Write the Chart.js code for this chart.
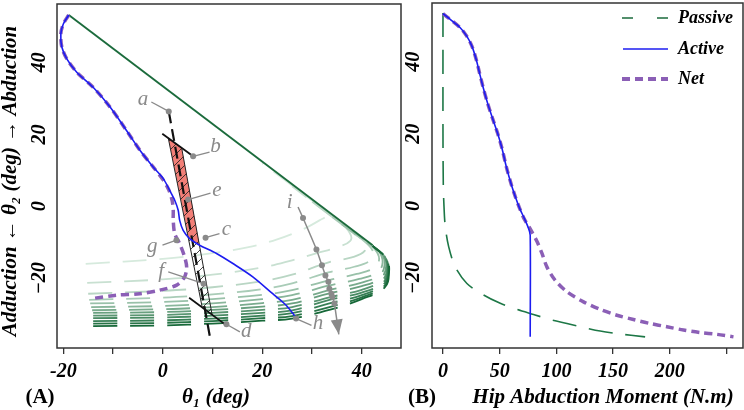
<!DOCTYPE html>
<html>
<head>
<meta charset="utf-8">
<script src="https://cdn.jsdelivr.net/npm/chart.js@4.4.1/dist/chart.umd.min.js"></script>
<style>
  html, body { margin: 0; padding: 0; background: #fff; }
  #wrap { position: relative; width: 744px; height: 410px; overflow: hidden; }
  #chartA { position: absolute; left: 0; top: 0; }
  #chartB { position: absolute; left: 400px; top: 0; }
</style>
</head>
<body>
<div id="wrap">
  <canvas id="chartA" width="420" height="410"></canvas>
  <canvas id="chartB" width="344" height="410"></canvas>
</div>
<script>
// ---- values ----
// axes
const xTicksA = [-20, -10, 0, 10, 20, 30, 40];
const xLabelsA = [-20, 0, 20, 40];
const yTicks = [-20, 0, 20, 40];
const xTicksB = [0, 50, 100, 150, 200, 250];
const xLabelsB = [0, 50, 100, 150, 200];

// panel A: theta1 (x) vs theta2 (y), deg
const passiveEdgeA = [[-18.9, 53.2], [42.2, -10.8]];
const activeA = [[-18.9, 53.2], [-20.0, 50.7], [-20.5, 48.0], [-20.3, 44.3], [-19.3, 41.0], [-17.3, 37.3],
  [-14.0, 33.1], [-10.6, 27.6], [-7.3, 21.1], [-4.6, 15.6], [-1.9, 10.9], [0.1, 7.7], [1.4, 4.4],
  [2.4, 1.7], [3.1, -1.1], [3.4, -3.9], [4.1, -6.7], [5.4, -9.0], [7.4, -10.8], [10.8, -13.1],
  [14.1, -15.9], [18.1, -19.6], [22.1, -24.3], [24.8, -27.5], [26.6, -30.6]];
const netA = [[-18.9, 53.2], [-20.0, 50.7], [-20.5, 48.0], [-20.3, 44.3], [-19.3, 41.0], [-17.3, 37.3],
  [-14.0, 33.1], [-10.6, 27.6], [-7.3, 21.1], [-4.6, 15.6], [-1.9, 10.9], [0.1, 7.3], [1.2, 4.6],
  [1.9, 1.5], [2.1, -1.1], [2.1, -3.9], [2.4, -7.6], [3.4, -10.4], [4.4, -14.1], [4.8, -16.9],
  [4.4, -19.6], [2.8, -21.9], [-0.6, -23.3], [-4.6, -24.3], [-9.3, -24.7], [-14.0, -25.6]];

// passive moment contours, light (top) to dark (bottom)
const contour01 = [[-15.5, -16], [0, -14.6], [10, -13], [17, -11.4], [23, -9.2], [28, -6.5], [31.5, -3.9], [33.2, -2.2], [32.6, -1.0], [30, 1.6], [25, 6.8], [20, 12.0]];
const contour02 = [[-15.2, -21.3], [0, -20.3], [10, -19], [20, -17], [26, -15], [31, -13], [35, -11.4], [37.7, -9.6], [37.6, -7.4], [35.5, -4.4], [31, 0.3], [26, 5.6]];
const contour03 = [[-15, -24.3], [0, -23.5], [10, -22.5], [20, -20.8], [26, -19], [33.5, -15.5], [38, -14.2], [40.6, -12.4], [40.4, -10], [38.5, -7.4], [35, -3.9], [30, 1.3]];
const contour04 = [[-14.8, -26], [0, -25.4], [10, -24.5], [20, -23], [26, -21.4], [33.5, -18.3], [38.5, -16.8], [41.8, -15], [42.3, -12.8], [41, -10.3], [38, -7.1], [34, -2.9]];
const contour05 = [[-14.6, -27], [0, -26.6], [10, -25.8], [20, -24.6], [26, -23.3], [33.5, -20.5], [39, -18.8], [42.6, -17], [43.5, -14.6], [42.6, -11.9], [40, -9.2], [36, -5]];
const contour06 = [[-14.4, -28], [0, -27.7], [10, -27], [20, -25.8], [26, -24.7], [33.5, -22], [39.5, -20.2], [43.2, -18.3], [44.2, -15.6], [43.5, -12.6], [41.5, -10.3], [38, -6.7]];
const contour07 = [[-14.2, -28.9], [0, -28.6], [10, -28], [20, -26.9], [26, -26], [33.5, -23.3], [40, -21.2], [43.6, -19.2], [44.6, -16.3], [44.1, -13.3], [42.2, -11]];
const contour08 = [[-14, -29.6], [0, -29.4], [10, -28.8], [20, -27.9], [26, -27], [33.5, -24.2], [40, -22.2], [43.9, -19.9], [44.9, -16.8], [44.4, -13.6], [42.2, -11]];
const contour09 = [[-14, -30.4], [0, -30.2], [10, -29.6], [20, -28.8], [26, -28], [33.5, -25.3], [40, -23.2], [44.1, -20.6], [45.1, -17.3], [44.6, -13.9], [42.2, -11]];
const contour10 = [[-14, -31.1], [0, -30.9], [10, -30.4], [20, -29.6], [26, -28.9], [33.5, -26], [40, -24], [44.3, -21.2], [45.2, -17.6], [44.7, -14.1], [42.2, -11]];
const contour11 = [[-14, -31.9], [0, -31.7], [10, -31.2], [20, -30.4], [26, -29.7], [33.5, -27], [40, -24.7], [44.4, -21.7], [45.3, -17.9], [44.8, -14.3], [42.2, -11]];
const contour12 = [[-14, -32.6], [0, -32.4], [10, -31.9], [20, -31.1], [26, -30.5], [33.5, -28], [40, -25.3], [44.5, -22.2], [45.4, -18.1], [44.9, -14.5], [42.2, -11]];
const contour13 = [[-14, -33.3], [0, -33.1], [10, -32.6], [20, -31.8], [26, -31.2], [33.5, -28.8], [40, -25.8], [44.6, -22.6], [45.5, -18.3], [45, -14.6], [42.2, -11]];
const contours = [contour01, contour02, contour03, contour04, contour05, contour06, contour07,
  contour08, contour09, contour10, contour11, contour12, contour13];

// band between lines b and d, red part above the active path
const redZone = [[1.1, 19.0], [3.8, 16.2], [7.4, -10.8], [5.2, -8.8], [1.1, 19.0]];
const hatchZone = [[1.1, 19.0], [3.8, 16.2], [9.92, -30.14], [7.93, -28.1], [1.1, 19.0]];
const lineA = [[1.2, 26.4], [9.6, -37.2]];
const lineB = [[-0.1, 20.2], [6.1, 13.9]];
const lineD = [[5.3, -25.4], [12.8, -33.1]];
const pathI = [[27.2, -0.2], [28.2, -3.25], [30.9, -12.0], [32.0, -16.4], [32.7, -19.2], [33.3, -21.0],
  [33.5, -22.9], [33.9, -24.3], [34.1, -25.2], [34.5, -27.0], [35.4, -35.6]];

// annotation letters and their leaders
const letterNames = ['a', 'b', 'c', 'd', 'e', 'f', 'g', 'h', 'i'];
const letterAt = [[-4.0, 29.6], [10.6, 16.7], [12.8, -6.5], [16.8, -34.9], [10.9, 4.4], [-0.3, -18.0],
  [-2.1, -11.3], [31.2, -32.6], [25.5, 1.2]];
const leaderFrom = [[-2.3, 29.0], [9.4, 15.1], [11.4, -7.6], [15.5, -34.9], [9.6, 3.7], [1.1, -18.2],
  [-0.06, -10.8], [29.9, -33.1]];
const leaderTo = [[1.2, 26.4], [6.1, 13.9], [8.6, -8.7], [12.8, -32.8], [5.1, 1.9], [8.2, -21.5],
  [2.75, -9.4], [26.8, -31.2]];

// panel B: hip abduction moment (x, N.m) vs theta2 (y)
const passiveB = [[0, 53.5], [0, 20], [0.3, 5.4], [0.9, -0.2], [2.0, -5.7], [5.0, -11.3], [10.8, -16.9],
  [21.1, -21.5], [35.8, -24.7], [50.5, -27.0], [65.2, -28.7], [79.8, -30.1], [94.5, -31.5],
  [109.3, -32.6], [123.9, -33.7], [138.6, -34.7], [153.3, -35.4], [178.2, -36.3]];
const activeB = [[0, 53.3], [6.4, 51.7], [15.2, 49.4], [21.1, 47.0], [25.5, 44.3], [29.3, 40.6],
  [32.2, 36.9], [35.2, 33.1], [39.3, 28.5], [44.1, 23.9], [48.1, 20.2], [52.0, 16.0], [55.8, 10.9],
  [59.9, 6.3], [63.7, 2.6], [67.5, -0.6], [71.6, -3.4], [75.4, -6.2], [76.9, -8.1], [76.9, -36.3]];
const netB = [[0, 53.3], [6.4, 51.7], [15.2, 49.4], [21.1, 47.0], [25.5, 44.3], [29.3, 40.6],
  [32.2, 36.9], [35.2, 33.1], [39.3, 28.5], [44.1, 23.9], [48.1, 20.2], [52.0, 16.0], [55.8, 10.9],
  [59.9, 6.3], [63.7, 2.6], [67.5, -0.6], [71.6, -3.6], [75.5, -5.6], [78.4, -7.2], [82.8, -9.8],
  [87.2, -13.1], [91.6, -16.9], [98.9, -20.6], [109.3, -23.8], [123.9, -26.6], [138.6, -28.7],
  [153.3, -30.3], [167.9, -31.5], [182.6, -32.6], [197.4, -33.5], [212.0, -34.4], [226.7, -35.1],
  [241.4, -35.6], [256.1, -36.3]];
const legendNames = ['Passive', 'Active', 'Net'];

// ---- styling ----
const SERIF = "'Liberation Serif', 'Times New Roman', serif";
const GREEN = '#1b6b3c';
const BLUE = '#1c1cf0';
const PURPLE = '#8b5fb6';
const GREY = '#8a8a8a';
const AXIS = '#333';

const pts = arr => arr.map(([x, y]) => ({ x, y }));

function line(data, opts) {
  return Object.assign({
    data: pts(data), showLine: true, pointRadius: 0, borderWidth: 1.5,
    fill: false, tension: 0
  }, opts);
}

function greenShade(k) {
  const light = [214, 234, 221], dark = [22, 104, 56];
  const t = Math.pow(k / (contours.length - 1), 1.05);
  const c = light.map((v, i) => Math.round(v + (dark[i] - v) * t));
  return `rgb(${c[0]},${c[1]},${c[2]})`;
}

function makeHatch() {
  const tile = document.createElement('canvas');
  tile.width = 10; tile.height = 10;
  const g = tile.getContext('2d');
  g.strokeStyle = '#1a1a1a';
  g.lineWidth = 0.8;
  g.beginPath();
  g.moveTo(0, 10); g.lineTo(10, 0);
  g.moveTo(-2, 2); g.lineTo(2, -2);
  g.moveTo(8, 12); g.lineTo(12, 8);
  g.stroke();
  return g.createPattern(tile, 'repeat');
}

function xScale(min, max, ticks, labels) {
  return {
    type: 'linear', min, max,
    afterBuildTicks: s => { s.ticks = ticks.map(v => ({ value: v })); },
    ticks: {
      callback: v => labels.includes(v) ? String(v) : '',
      autoSkip: false, maxRotation: 0, padding: 6, color: '#000',
      font: { family: SERIF, size: 20, style: 'italic', weight: 'bold' }
    },
    grid: { drawOnChartArea: false, drawTicks: true, tickLength: 6, color: AXIS, lineWidth: 1.3 },
    border: { display: false }
  };
}

const yScale = { type: 'linear', min: -39.39, max: 56.26, display: false };

function drawFrame(ctx, area) {
  ctx.save();
  ctx.strokeStyle = AXIS;
  ctx.lineWidth = 1.5;
  ctx.strokeRect(area.left, area.top, area.right - area.left, area.bottom - area.top);
  ctx.restore();
}

function drawYLabels(ctx, y, cx) {
  ctx.save();
  ctx.fillStyle = '#000';
  ctx.font = `italic bold 20px ${SERIF}`;
  ctx.textAlign = 'center';
  ctx.textBaseline = 'middle';
  yTicks.forEach(v => {
    ctx.save();
    ctx.translate(cx, y.getPixelForValue(v));
    ctx.rotate(-Math.PI / 2);
    ctx.fillText(v < 0 ? '\u2212' + Math.abs(v) : String(v), 0, 0);
    ctx.restore();
  });
  ctx.restore();
}

const panelA = {
  id: 'panelA',
  afterDatasetsDraw(chart) {
    const { ctx, scales: { x, y } } = chart;
    ctx.save();
    // arrow head at the end of path i
    const n = pathI.length;
    const tx = x.getPixelForValue(pathI[n - 1][0]), ty = y.getPixelForValue(pathI[n - 1][1]);
    const bx = x.getPixelForValue(pathI[n - 2][0]), by = y.getPixelForValue(pathI[n - 2][1]);
    const ang = Math.atan2(ty - by, tx - bx);
    const L = 15, W = 6, c = Math.cos(ang), s = Math.sin(ang);
    ctx.fillStyle = GREY;
    ctx.beginPath();
    ctx.moveTo(tx, ty);
    ctx.lineTo(tx - L * c + W * s, ty - L * s - W * c);
    ctx.lineTo(tx - L * c - W * s, ty - L * s + W * c);
    ctx.closePath();
    ctx.fill();
    // letters
    ctx.font = `italic 21px ${SERIF}`;
    ctx.textAlign = 'center';
    ctx.textBaseline = 'middle';
    letterNames.forEach((t, i) => {
      ctx.fillText(t, x.getPixelForValue(letterAt[i][0]), y.getPixelForValue(letterAt[i][1]));
    });
    ctx.restore();
  },
  afterDraw(chart) {
    const { ctx, chartArea, scales: { y } } = chart;
    drawFrame(ctx, chartArea);
    drawYLabels(ctx, y, 40);
    ctx.save();
    ctx.fillStyle = '#000';
    ctx.textBaseline = 'middle';
    ctx.textAlign = 'center';
    ctx.font = `bold 21px ${SERIF}`;
    ctx.fillText('(A)', 40, 398);
    ctx.font = `italic bold 21px ${SERIF}`;
    ctx.fillText('\u03b8\u2081 (deg)', 216, 398);
    ctx.translate(11, 181);
    ctx.rotate(-Math.PI / 2);
    ctx.fillText('Adduction \u2190 \u03b8\u2082 (deg) \u2192 Abduction', 0, 0);
    ctx.restore();
  }
};

const panelB = {
  id: 'panelB',
  afterDraw(chart) {
    const { ctx, chartArea, scales: { y } } = chart;
    drawFrame(ctx, chartArea);
    drawYLabels(ctx, y, 14);
    ctx.save();
    // legend
    const rowY = [18, 49, 79];
    ctx.lineCap = 'butt';
    ctx.strokeStyle = GREEN; ctx.lineWidth = 1.6;
    ctx.beginPath();
    ctx.moveTo(222, rowY[0]); ctx.lineTo(233, rowY[0]);
    ctx.moveTo(257, rowY[0]); ctx.lineTo(268, rowY[0]);
    ctx.stroke();
    ctx.strokeStyle = BLUE; ctx.lineWidth = 1.6;
    ctx.beginPath(); ctx.moveTo(223, rowY[1]); ctx.lineTo(268, rowY[1]); ctx.stroke();
    ctx.strokeStyle = PURPLE; ctx.lineWidth = 4; ctx.setLineDash([8, 5]);
    ctx.beginPath(); ctx.moveTo(222, rowY[2]); ctx.lineTo(268, rowY[2]); ctx.stroke();
    ctx.setLineDash([]);
    ctx.fillStyle = '#000';
    ctx.font = `italic bold 18px ${SERIF}`;
    ctx.textBaseline = 'middle';
    ctx.textAlign = 'left';
    legendNames.forEach((t, i) => ctx.fillText(t, 278, rowY[i]));
    // titles
    ctx.textAlign = 'center';
    ctx.font = `bold 21px ${SERIF}`;
    ctx.fillText('(B)', 22, 398);
    ctx.font = `italic bold 21px ${SERIF}`;
    ctx.fillText('Hip Abduction Moment (N.m)', 203, 398);
    ctx.restore();
  }
};

const common = {
  responsive: false,
  animation: false,
  events: [],
  plugins: { legend: { display: false }, tooltip: { enabled: false } }
};

// ---- panel A ----
const hatch = makeHatch();
const datasetsA = [
  ...contours.map((c, k) => line(c, {
    borderColor: greenShade(k), borderWidth: 1.8, borderDash: [24, 13], tension: 0.4, order: 100 - k
  })),
  line(passiveEdgeA, { borderColor: GREEN, borderWidth: 1.9, order: 80 }),
  line(redZone, { fill: 'shape', backgroundColor: '#f27f77', borderColor: 'rgba(0,0,0,0)', borderWidth: 0, order: 72 }),
  line(hatchZone, { fill: 'shape', backgroundColor: hatch, borderColor: '#222', borderWidth: 1, order: 71 }),
  line(lineA, { borderColor: '#111', borderWidth: 2.2, borderDash: [12, 6], order: 60 }),
  line(lineB, { borderColor: '#111', borderWidth: 1.8, order: 60 }),
  line(lineD, { borderColor: '#111', borderWidth: 1.8, order: 60 }),
  line(netA, { borderColor: PURPLE, borderWidth: 3.5, borderDash: [8, 5], tension: 0.3, order: 50 }),
  line(activeA, { borderColor: BLUE, borderWidth: 1.6, tension: 0.3, order: 40 }),
  ...leaderFrom.map((p, i) => line([p, leaderTo[i]], {
    borderColor: GREY, borderWidth: 1.3, pointRadius: [0, 3], pointBackgroundColor: GREY,
    pointBorderWidth: 0, order: 30
  })),
  line(pathI, {
    borderColor: GREY, borderWidth: 1.5, tension: 0.2, order: 30,
    pointRadius: pathI.map((p, i) => (i === 0 || i === pathI.length - 1) ? 0 : 3),
    pointBackgroundColor: GREY, pointBorderWidth: 0
  })
];

new Chart(document.getElementById('chartA'), {
  type: 'scatter',
  data: { datasets: datasetsA },
  options: Object.assign({}, common, {
    layout: { padding: { left: 57, right: 19, top: 3, bottom: 20 } },
    scales: { x: xScale(-21.27, 47.9, xTicksA, xLabelsA), y: yScale }
  }),
  plugins: [panelA]
});

// ---- panel B ----
new Chart(document.getElementById('chartB'), {
  type: 'scatter',
  data: {
    datasets: [
      line(activeB, { borderColor: BLUE, borderWidth: 1.6, tension: 0.3, order: 1 }),
      line(netB, { borderColor: PURPLE, borderWidth: 3.5, borderDash: [8, 5], tension: 0.3, order: 2 }),
      line(passiveB, { borderColor: '#1d7746', borderWidth: 1.6, borderDash: [24, 13], tension: 0.3, order: 3 })
    ]
  },
  options: Object.assign({}, common, {
    layout: { padding: { left: 32, right: 1, top: 3, bottom: 20 } },
    scales: { x: xScale(-9.68, 264.5, xTicksB, xLabelsB), y: yScale }
  }),
  plugins: [panelB]
});
</script>
</body>
</html>
